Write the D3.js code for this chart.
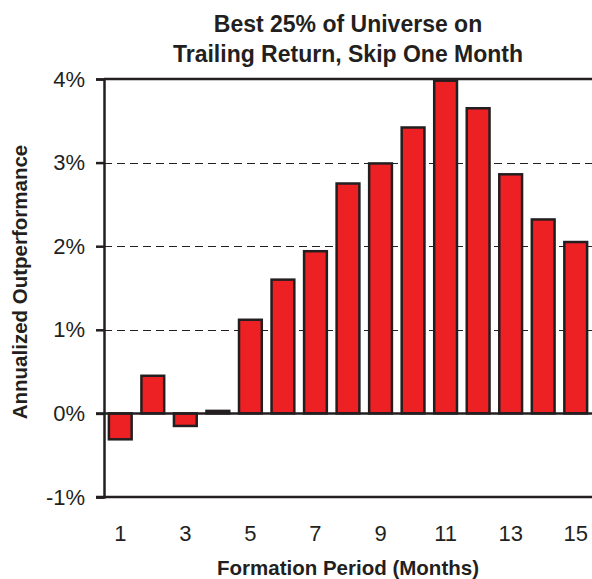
<!DOCTYPE html>
<html>
<head>
<meta charset="utf-8">
<script src="https://cdn.jsdelivr.net/npm/d3@7/dist/d3.min.js"></script>
<style>
  html, body { margin: 0; padding: 0; background: #fff; }
  svg { display: block; font-family: "Liberation Sans", Arial, sans-serif; }
</style>
</head>
<body>
<svg id="chart" width="592" height="579"></svg>
<script>
const months = [1, 2, 3, 4, 5, 6, 7, 8, 9, 10, 11, 12, 13, 14, 15];
const outperformance = [-0.31, 0.45, -0.15, 0.03, 1.12, 1.60, 1.94, 2.75, 2.99, 3.42, 3.98, 3.65, 2.86, 2.32, 2.05];
const yTicks = [-1, 0, 1, 2, 3, 4];
const gridTicks = [1, 2, 3];
const xTickLabels = [1, 3, 5, 7, 9, 11, 13, 15];
const titleLines = ["Best 25% of Universe on", "Trailing Return, Skip One Month"];
const yTitle = "Annualized Outperformance";
const xTitle = "Formation Period (Months)";

(function () {
const pLeft = 104, pRight = 592, pTop = 79, pBottom = 497;
const ink = "#231F20";

const svg = d3.select("#chart");

const x = d3.scaleBand().domain(months).range([pLeft, pRight]).paddingInner(0.3).paddingOuter(0.15);
const y = d3.scaleLinear().domain([-1, 4]).range([pBottom, pTop]);

// gridlines
svg.append("g").selectAll("line").data(gridTicks).join("line")
  .attr("x1", pLeft).attr("x2", pRight)
  .attr("y1", d => Math.round(y(d)) + 0.5).attr("y2", d => Math.round(y(d)) + 0.5)
  .attr("stroke", ink).attr("stroke-width", 1).attr("stroke-dasharray", "8,5");

// bars
svg.append("g").selectAll("rect").data(months).join("rect")
  .attr("x", d => x(d))
  .attr("width", x.bandwidth())
  .attr("y", (d, i) => y(Math.max(0, outperformance[i])))
  .attr("height", (d, i) => Math.abs(y(outperformance[i]) - y(0)))
  .attr("fill", "#ED2024")
  .attr("stroke", ink).attr("stroke-width", 2.5);

// frame lines: top, bottom, zero
svg.append("line").attr("x1", pLeft).attr("x2", pRight).attr("y1", y(4)).attr("y2", y(4))
  .attr("stroke", ink).attr("stroke-width", 2.5);
svg.append("line").attr("x1", pLeft - 8).attr("x2", pRight).attr("y1", y(-1)).attr("y2", y(-1))
  .attr("stroke", ink).attr("stroke-width", 2.5);
svg.append("line").attr("x1", pLeft - 8).attr("x2", pRight).attr("y1", y(0)).attr("y2", y(0))
  .attr("stroke", ink).attr("stroke-width", 2.5);

// y axis
const yAxis = d3.axisLeft(y).tickValues(yTicks).tickSize(8).tickPadding(10)
  .tickFormat(d => d + "%");
const gy = svg.append("g").attr("transform", `translate(${pLeft},0)`).call(yAxis);
gy.select(".domain").attr("stroke", ink).attr("stroke-width", 2.5);
gy.selectAll(".tick line").attr("stroke", ink).attr("stroke-width", 2.5);
gy.selectAll(".tick text").attr("font-size", 22).attr("fill", ink)
  .attr("font-family", "'Liberation Sans', Arial, sans-serif").attr("x", -19);

// x axis (labels only)
const xAxis = d3.axisBottom(x).tickValues(xTickLabels).tickSize(0).tickPadding(0);
const gx = svg.append("g").attr("transform", `translate(0,${pBottom})`).call(xAxis);
gx.select(".domain").remove();
gx.selectAll(".tick text").attr("font-size", 22).attr("fill", ink)
  .attr("font-family", "'Liberation Sans', Arial, sans-serif")
  .attr("dy", null).attr("y", 44);

// titles
svg.append("g").selectAll("text").data(titleLines).join("text")
  .attr("x", (pLeft + pRight) / 2).attr("y", (d, i) => 32 + i * 30)
  .attr("text-anchor", "middle").attr("font-weight", "bold").attr("font-size", 23)
  .attr("fill", ink).text(d => d);

svg.append("text")
  .attr("transform", `translate(27,${(pTop + pBottom) / 2 - 6}) rotate(-90)`)
  .attr("text-anchor", "middle").attr("font-weight", "bold").attr("font-size", 20.5)
  .attr("fill", ink).text(yTitle);

svg.append("text")
  .attr("x", (pLeft + pRight) / 2).attr("y", 575)
  .attr("text-anchor", "middle").attr("font-weight", "bold").attr("font-size", 20.5)
  .attr("fill", ink).text(xTitle);
})();
</script>
</body>
</html>
